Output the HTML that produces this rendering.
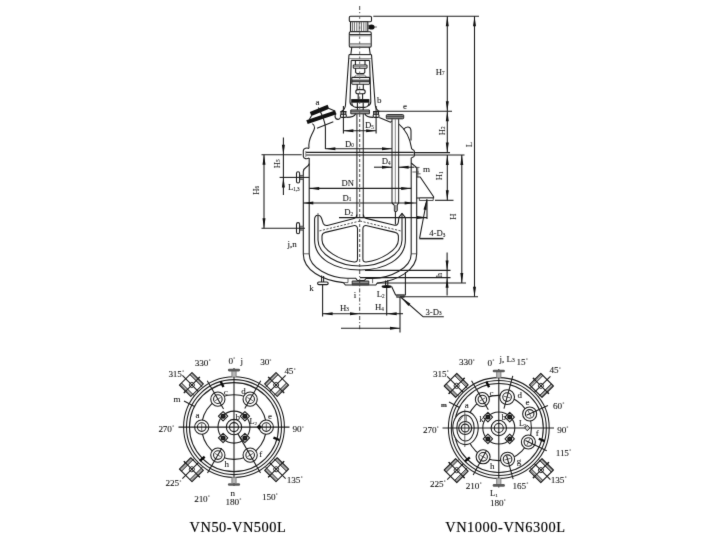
<!DOCTYPE html>
<html lang="en"><head><meta charset="utf-8"><title>VN reactor drawing</title>
<style>
html,body{margin:0;padding:0;background:#fff;}
body{width:720px;height:540px;overflow:hidden;font-family:"Liberation Serif",serif;}
svg{display:block;will-change:transform;}
svg *{vector-effect:none;}
.d{fill:none;stroke:#1c1c1c;stroke-width:1.08;stroke-linecap:butt;stroke-linejoin:round;}
.d .t{stroke-width:.75;stroke:#333;}
.d .k{stroke-width:1.3;stroke:#111;}
.d .f{fill:#111;stroke:none;}
.d .w{fill:#fff;}
.d .cl{stroke-dasharray:4 2 1.2 2;stroke-width:.9;stroke:#333;}
.d .clm{stroke-dasharray:2.4 2.6;stroke-width:.9;stroke:#555;}
.d .cs{stroke-dasharray:3 2;stroke-width:.95;stroke:#4a4a4a;}
.d .u{stroke-width:.9;stroke:#2a2a2a;}
.d .g{stroke:#777;stroke-width:.9;}
.d .s{stroke:#444;stroke-width:1.2;}
.d .da{stroke-dasharray:2.2 1.4;stroke-width:.8;}
.d .cap{fill:#000;stroke:#000;stroke-width:.16;}
.d .b{font-weight:bold;}
.d text{fill:#111;stroke:#111;stroke-width:.08;font-family:"Liberation Serif",serif;}
</style></head><body>
<svg width="720" height="540" viewBox="0 0 720 540">
<defs><filter id="sf" x="0" y="0" width="720" height="540" filterUnits="userSpaceOnUse" color-interpolation-filters="sRGB"><feConvolveMatrix order="3" kernelMatrix="0.01 0.07 0.01 0.07 0.68 0.07 0.01 0.07 0.01" edgeMode="none" preserveAlpha="false"/></filter></defs>
<g class="d" filter="url(#sf)">
<g id="elev">
<rect x="349.3" y="16.3" width="22.2" height="5.4" rx="1.2" class="w"/>
<rect x="350.5" y="21.7" width="17.3" height="9.8" class="w"/>
<line x1="352.4" y1="22.2" x2="352.4" y2="31.3" class='t'/>
<line x1="354.4" y1="22.2" x2="354.4" y2="31.3" class='t'/>
<line x1="356.8" y1="22.2" x2="356.8" y2="31.3" class='t'/>
<line x1="359.2" y1="22.2" x2="359.2" y2="31.3" class='t'/>
<line x1="361.4" y1="22.2" x2="361.4" y2="31.3" class='t'/>
<line x1="363.8" y1="22.2" x2="363.8" y2="31.3" class='t'/>
<line x1="366" y1="22.2" x2="366" y2="31.3" class='t'/>
<path d="M367.8 25.3h1.6M367.8 28.7h1.6M373.5 27h3.4" class="t"/>
<ellipse cx="371.5" cy="27" rx="3.1" ry="2.6" class="f"/>
<rect x="349.3" y="31.8" width="21.9" height="15.3" rx="1.2" class="w"/>
<line x1="349.5" y1="34.6" x2="371" y2="34.6"/>
<line x1="349.5" y1="35.8" x2="371" y2="35.8" class='g'/>
<line x1="349.5" y1="43.7" x2="371" y2="43.7" class='g'/>
<line x1="349.5" y1="44.9" x2="371" y2="44.9" class='g'/>
<path d="M351.8 47.1L350.8 54.6M369.2 47.1L370.3 54.6"/>
<path d="M349 54.6H371.5"/>
<path d="M349.2 58.6H371.3" class="g"/>
<path d="M349 54.6L345.5 105C345.2 108.5 343.4 110.4 341.2 111.5M371.5 54.6L375.2 105C375.5 108.5 377.4 110.4 379.4 111.5"/>
<path d="M351.2 60.4H369.6M351.2 60.4L350 101.5C350 104 351 105.2 352.5 105.8M369.6 60.4L370.8 101.5C370.8 104 369.6 105.2 368.2 105.8"/>
<path d="M355.4 60.4V65M365 60.4V65"/>
<rect x="353.3" y="65" width="13.7" height="3.2" rx="0.6" class="w"/>
<line x1="353.5" y1="66.6" x2="367" y2="66.6" class='g'/>
<path d="M355.6 68.2V72.3L357 73.6H363.6L364.8 72.3V68.2"/>
<path d="M356.5 75H364.5M354.2 77.4L356 75.2M366.6 77.4L364.8 75.2" class="t"/>
<rect x="351.8" y="77.4" width="17.8" height="6.8" rx="0.6" class="w"/>
<line x1="351.8" y1="80.2" x2="369.6" y2="80.2"/>
<line x1="351.8" y1="81.7" x2="369.6" y2="81.7"/>
<path d="M357.2 84.2V89.8M363.3 84.2V89.8"/>
<rect x="355.8" y="89.6" width="9.4" height="4.2" rx="2.1" class="w"/>
<path d="M358.2 93.8V99.3M362.6 93.8V99.3"/>
<rect x="351.2" y="99.1" width="18.2" height="3.6" class="f"/>
<path d="M351.8 102.6C351.8 105.5 353.5 107.2 356 107.4H364.8C367.3 107.2 369 105.5 369 102.6"/>
<path d="M357.4 102.6V110M363.2 102.6V110"/>
<rect x="350.8" y="110" width="18.6" height="3.8" fill="#a8a8a8" stroke="#222" stroke-width="1"/>
<line x1="350.8" y1="111.7" x2="369.4" y2="111.7" class='t'/>
<rect x="341" y="111.6" width="4.8" height="2.6" class="w"/>
<rect x="340.5" y="114.2" width="5.8" height="3.2" rx="1.2" class="w"/>
<rect x="373.7" y="111.6" width="4.8" height="2.6" class="w"/>
<rect x="373.2" y="114.2" width="5.8" height="3.2" rx="1.2" class="w"/>
<line x1="343.4" y1="106" x2="343.4" y2="133.5"/>
<line x1="376.1" y1="106" x2="376.1" y2="133.5"/>
<path d="M340.5 111.6H346.4M373.2 111.6H379.2"/>
<path d="M346.4 117.4C351.5 117.4 354.6 116.6 355.6 113.8M373.2 117.4C368.4 117.4 366 116.6 364.8 113.8"/>
<line x1="356.9" y1="113.8" x2="356.9" y2="217" class='s'/>
<line x1="363.3" y1="113.8" x2="363.3" y2="217" class='s'/>
<path d="M311.4 115.9L329.2 108.7L327.6 104.8L309.8 112Z" class="f"/>
<path d="M307.7 124L336.5 114.2L335.1 110.4L306.3 120.2Z" class="f"/>
<path d="M311.6 115.5L309.2 119.8M329 108.6L335 111"/>
<path d="M318.3 107.5C321 113 325 120 325.4 127.5V149"/>
<line x1="317" y1="128.3" x2="333.3" y2="121.7"/>
<path d="M312.4 123.6C316.5 126.5 314 130 312 134C309.5 139 308.4 144 309 148.4"/>
<path d="M335.8 113.6C334.4 116.4 335 119.2 338 119.4C339.5 119.5 340 118.6 340.5 117.4"/>
<path d="M379.2 117.6L390.6 122.2L392 121"/>
<path d="M398.4 123.6C404.5 128.5 410 137 411.7 149"/>
<path d="M403.6 129.6C405 127.5 407 126.8 409 127.2C410.6 127.6 411 129 411 131V140.5"/>
<rect x="386.3" y="114.6" width="17.4" height="4.2" rx="1" fill="#8a8a8a" stroke="#222" stroke-width="1"/>
<line x1="386.6" y1="116.6" x2="403.4" y2="116.6" class='t'/>
<line x1="392" y1="118.8" x2="392" y2="203" class='s'/>
<line x1="395.3" y1="118.8" x2="395.3" y2="203" class='g'/>
<line x1="398.6" y1="118.8" x2="398.6" y2="203" class='s'/>
<path d="M392 203L394.4 205.3V210.6L395.4 212M398.6 203L397.2 205.3V210.6L395.4 212V224.5"/>
<rect x="394.6" y="205" width="2.4" height="5.6" fill="#999" stroke="none"/>
<line x1="306" y1="152.4" x2="413.5" y2="152.4"/>
<line x1="306" y1="155" x2="413.5" y2="155"/>
<path d="M309 148.4C307 147.6 303.6 148 303.3 150.6V156.4C303.6 159 307 159.2 309.2 158"/>
<path d="M305.8 151V157" class="g"/>
<path d="M411.7 149C413 149.6 414.4 150 414.4 151.5V155.4C414.4 157 413 157.2 411.4 157.8"/>
<path d="M309.2 158V254"/>
<path d="M309.2 163.6C308.8 167.4 303.4 166.6 303.3 171.5V254"/>
<path d="M411.2 157.8V254"/>
<path d="M411.2 163L416.7 167.6V254"/>
<path d="M303.3 253.8H309.2M411.2 253.8H416.7" class="t"/>
<path d="M309.2 254C309.2 268 330 277.8 347 278.2H355.6L357.4 280.5H364.4L366 278.5H372.4C391 277.8 411.2 268 411.2 254"/>
<path d="M303.3 254C303.3 270 322 280.5 343.4 282.6L345.4 285H375.8L377.2 283.2C398 280.5 416.7 270 416.7 254"/>
<path d="M348 278.4V282.6H343.6M372.6 278.6V283.2" class="t"/>
<rect x="352.2" y="281" width="16.6" height="3.8" fill="#909090" stroke="#222" stroke-width=".9"/>
<line x1="352.2" y1="283.6" x2="368.8" y2="283.6" class='t'/>
<rect x="299.6" y="175.4" width="3.7" height="4" fill="#999" stroke="none"/>
<rect x="296.5" y="171.8" width="3.1" height="11.2" rx="1.55" class="w"/>
<path d="M299.6 175.4H303.3M299.6 179.4H303.3" class="t"/>
<rect x="299.6" y="226.2" width="3.7" height="4" fill="#999" stroke="none"/>
<rect x="296.5" y="222.6" width="3.1" height="11.2" rx="1.55" class="w"/>
<path d="M299.6 226.2H303.3M299.6 230.2H303.3" class="t"/>
<path d="M321.6 275.5V282M323.6 276V282"/>
<rect x="317.6" y="282" width="10.6" height="2.6" rx="1.3" class="w"/>
<line x1="322.6" y1="284.6" x2="322.6" y2="316.5"/>
<path d="M385.6 280.5V285.5M387.8 280V285.5"/>
<ellipse cx="386.6" cy="286.6" rx="5" ry="1.5" class="f"/>
<line x1="386.7" y1="288" x2="386.7" y2="315.5"/>
<path d="M391.6 286.6L395.6 295H405.4V272"/>
<rect x="396.6" y="295" width="7.6" height="2.4" fill="#777" stroke="#222" stroke-width=".6"/>
<path d="M414.5 167.4H419.5M412.4 172H419M416.4 173.8H420.6M417.8 167.6V176.8" class="t"/>
<path d="M416.7 177H420.2L433.6 196.8V198H416.7"/>
<rect x="419.4" y="198" width="13.8" height="2.5" fill="#fff" stroke="#222" stroke-width=".8"/>
<line x1="427" y1="200.4" x2="427" y2="219"/>
<path d="M356.9 214.5C356.7 217 355.6 218 354 218.4L327.4 225.4C325.6 225.8 324 225 323.2 223.4L321.8 219C321 216.4 319.6 215.2 318 215.2C316 215.2 314.6 217 314.6 219.6V240C314.6 259 335 270 360 270C385 270 405.4 259 405.4 240V217.6L402 213.3L398.9 217.4L398.3 222.4C398 224.6 396.4 225.6 394.6 225.2L366.2 218.4C364.6 218 363.5 217 363.3 214.5"/>
<line x1="318" y1="213" x2="318" y2="215.2" class='t'/>
<path d="M318 216V240C318 254 338 266 360 266C382 266 402 254 402 240V213.5"/>
<path d="M325.2 232.4L353.4 225.7C356 225.1 357.5 226.4 357.5 228.8V259C357.5 261.2 356.4 262.3 354.2 262C340 260.4 322 250 322 240V236C322 234 323.2 232.9 325.2 232.4Z"/>
<path transform="translate(720.4 0) scale(-1 1)" d="M325.2 232.4L353.4 225.7C356 225.1 357.5 226.4 357.5 228.8V259C357.5 261.2 356.4 262.3 354.2 262C340 260.4 322 250 322 240V236C322 234 323.2 232.9 325.2 232.4Z"/>
<path d="M360 221L319 231M360 221L401 231" class="da"/>
<path d="M359.7 6V15" class="cl"/>
<path d="M359.7 16.5V113" class="clm"/>
<path d="M359.7 114V270" class="cs"/>
<path d="M359.7 270V331" class="cl"/>
<line x1="373.3" y1="16.2" x2="479" y2="16.2"/>
<line x1="447.3" y1="16.2" x2="447.3" y2="111.3"/>
<path class="f" d="M447.30 16.20L448.80 26.20L445.80 26.20Z"/>
<path class="f" d="M447.30 111.30L445.80 101.30L448.80 101.30Z"/>
<line x1="474.5" y1="16.2" x2="474.5" y2="296.7"/>
<path class="f" d="M474.50 16.20L476.00 26.20L473.00 26.20Z"/>
<path class="f" d="M474.50 296.70L473.00 286.70L476.00 286.70Z"/>
<line x1="378.5" y1="111.2" x2="452" y2="111.2"/>
<line x1="447.3" y1="111.3" x2="447.3" y2="152.6"/>
<path class="f" d="M447.30 111.30L448.80 121.30L445.80 121.30Z"/>
<path class="f" d="M447.30 152.60L445.80 142.60L448.80 142.60Z"/>
<line x1="413.5" y1="152.6" x2="450" y2="152.6"/>
<line x1="413.5" y1="155" x2="464.5" y2="155"/>
<line x1="447.3" y1="155" x2="447.3" y2="200.3"/>
<path class="f" d="M447.30 155.00L448.80 165.00L445.80 165.00Z"/>
<path class="f" d="M447.30 200.30L445.80 190.30L448.80 190.30Z"/>
<line x1="435" y1="200.3" x2="453.5" y2="200.3"/>
<line x1="461.8" y1="155" x2="461.8" y2="283"/>
<path class="f" d="M461.80 155.00L463.30 165.00L460.30 165.00Z"/>
<path class="f" d="M461.80 283.00L460.30 273.00L463.30 273.00Z"/>
<line x1="377" y1="283" x2="466" y2="283"/>
<line x1="400" y1="296.7" x2="478" y2="296.7"/>
<line x1="365" y1="270.4" x2="450.5" y2="270.4"/>
<line x1="360" y1="277.6" x2="450.5" y2="277.6"/>
<line x1="447.1" y1="252.5" x2="447.1" y2="295.5"/>
<path class="f" d="M447.10 270.40L445.60 260.40L448.60 260.40Z"/>
<path class="f" d="M447.10 277.80L448.60 287.80L445.60 287.80Z"/>
<line x1="261.5" y1="154.8" x2="301.7" y2="154.8"/>
<line x1="283.4" y1="137.5" x2="283.4" y2="177.4"/>
<path class="f" d="M283.40 154.80L281.90 144.80L284.90 144.80Z"/>
<line x1="279.6" y1="177.4" x2="309.2" y2="177.4"/>
<line x1="283.4" y1="177.4" x2="283.4" y2="195"/>
<path class="f" d="M283.40 177.40L284.90 187.40L281.90 187.40Z"/>
<line x1="264" y1="154.8" x2="264" y2="228.2"/>
<path class="f" d="M264.00 154.80L265.50 164.80L262.50 164.80Z"/>
<path class="f" d="M264.00 228.20L262.50 218.20L265.50 218.20Z"/>
<line x1="261.5" y1="228.2" x2="305" y2="228.2"/>
<line x1="343.4" y1="130.8" x2="376.1" y2="130.8"/>
<path class="f" d="M343.40 130.80L353.40 129.30L353.40 132.30Z"/>
<path class="f" d="M376.10 130.80L366.10 132.30L366.10 129.30Z"/>
<line x1="325.4" y1="148.7" x2="392" y2="148.7"/>
<path class="f" d="M325.40 148.70L335.40 147.20L335.40 150.20Z"/>
<path class="f" d="M392.00 148.70L382.00 150.20L382.00 147.20Z"/>
<line x1="374" y1="167.2" x2="392" y2="167.2"/>
<path class="f" d="M392.00 167.20L382.00 168.70L382.00 165.70Z"/>
<line x1="398.6" y1="167.2" x2="414" y2="167.2"/>
<path class="f" d="M398.60 167.20L408.60 165.70L408.60 168.70Z"/>
<line x1="309.2" y1="188.4" x2="411.2" y2="188.4"/>
<path class="f" d="M309.20 188.40L319.20 186.90L319.20 189.90Z"/>
<path class="f" d="M411.20 188.40L401.20 189.90L401.20 186.90Z"/>
<line x1="303.3" y1="203" x2="416.7" y2="203"/>
<path class="f" d="M303.30 203.00L313.30 201.50L313.30 204.50Z"/>
<path class="f" d="M414.60 203.00L404.60 204.50L404.60 201.50Z"/>
<line x1="339" y1="217.6" x2="427" y2="217.6"/>
<path class="f" d="M427.00 217.60L417.00 219.10L417.00 216.10Z"/>
<path d="M419.6 238.2L427 199"/>
<line x1="419.3" y1="238.6" x2="443.4" y2="238.6" stroke="#222" stroke-width="1.5"/>
<path class="f" d="M427.00 199.00L426.43 210.09L423.48 209.53Z"/>
<path d="M443.8 316.7H423L401.2 297.5"/>
<path class="f" d="M401.20 297.50L410.44 303.65L408.46 305.90Z"/>
<line x1="322.6" y1="313.7" x2="360" y2="313.7"/>
<path class="f" d="M322.60 313.70L332.60 312.20L332.60 315.20Z"/>
<path class="f" d="M360.00 313.70L350.00 315.20L350.00 312.20Z"/>
<line x1="360" y1="313.7" x2="386.7" y2="313.7"/>
<line x1="386.7" y1="313.7" x2="403" y2="313.7"/>
<path class="f" d="M386.70 313.70L396.70 312.20L396.70 315.20Z"/>
<line x1="341" y1="328.3" x2="400" y2="328.3"/>
<path class="f" d="M400.00 328.30L390.00 329.80L390.00 326.80Z"/>
<line x1="400" y1="297" x2="400" y2="332.5"/>
<text x="315.6" y="104.6" font-size="9" text-anchor="start">a</text>
<text x="377" y="103" font-size="9" text-anchor="start">b</text>
<text x="403" y="109.4" font-size="9" text-anchor="start">e</text>
<text x="365" y="128.4" font-size="8.7" text-anchor="start">D<tspan font-size="5.2" dy="0.5">5</tspan></text>
<text x="345" y="146.7" font-size="8.7" text-anchor="start">D<tspan font-size="5.2" dy="0.5">0</tspan></text>
<text x="381.7" y="164" font-size="8.7" text-anchor="start">D<tspan font-size="5.2" dy="0.5">4</tspan></text>
<text x="341.6" y="186.1" font-size="8.6" text-anchor="start">DN</text>
<text x="342.5" y="200.8" font-size="8.7" text-anchor="start">D<tspan font-size="5.2" dy="0.5">1</tspan></text>
<text x="344.2" y="215" font-size="8.7" text-anchor="start">D<tspan font-size="5.2" dy="0.5">2</tspan></text>
<text x="423" y="171.8" font-size="9" text-anchor="start">m</text>
<text x="287.9" y="190" font-size="8.7" text-anchor="start">L<tspan font-size="5.2" dy="0.5">1,3</tspan></text>
<text x="287.5" y="246.8" font-size="9" text-anchor="start">j,n</text>
<text x="309.2" y="290.8" font-size="9" text-anchor="start">k</text>
<text x="353.7" y="297.5" font-size="9" text-anchor="start">i</text>
<text x="376.7" y="297" font-size="8.7" text-anchor="start">L<tspan font-size="5.2" dy="0.5">2</tspan></text>
<text x="340" y="310.8" font-size="8.7" text-anchor="start">H<tspan font-size="5.2" dy="0.5">3</tspan></text>
<text x="375" y="310.2" font-size="8.7" text-anchor="start">H<tspan font-size="5.2" dy="0.5">4</tspan></text>
<text x="429.2" y="236.3" font-size="8.7" text-anchor="start">4-D<tspan font-size="5.2" dy="0.5">3</tspan></text>
<text x="425.4" y="314.6" font-size="8.7" text-anchor="start">3-D<tspan font-size="5.2" dy="0.5">3</tspan></text>
<text x="435.8" y="74.6" font-size="8.7" text-anchor="start">H<tspan font-size="5.2" dy="0.5">7</tspan></text>
<text x="444.6" y="135.2" font-size="8.7" transform="rotate(-90 444.6 135.2)" text-anchor="start">H<tspan font-size="5.2" dy="0.5">2</tspan></text>
<text x="442.4" y="180.2" font-size="8.7" transform="rotate(-90 442.4 180.2)" text-anchor="start">H<tspan font-size="5.2" dy="0.5">1</tspan></text>
<text x="456.5" y="219.8" font-size="8.7" transform="rotate(-90 456.5 219.8)" text-anchor="start">H</text>
<text x="442" y="277.2" font-size="8.5" transform="rotate(-90 442 277.2)" text-anchor="start">h</text>
<text x="471.7" y="147.2" font-size="8.7" transform="rotate(-90 471.7 147.2)" text-anchor="start">L</text>
<text x="279.6" y="168.2" font-size="8.7" transform="rotate(-90 279.6 168.2)" text-anchor="start">H<tspan font-size="5.2" dy="0.5">5</tspan></text>
<text x="258.8" y="194.8" font-size="8.7" transform="rotate(-90 258.8 194.8)" text-anchor="start">H<tspan font-size="5.2" dy="0.5">6</tspan></text>
</g>
<g id="plan1">
<circle cx="234" cy="427.1" r="50.4"/>
<circle cx="234" cy="427.1" r="47.5"/>
<circle cx="234" cy="427.1" r="44.5"/>
<g transform="translate(234 427.1) rotate(45)">
<line x1="-7.4" y1="-68.3" x2="-7.4" y2="-52.2" stroke="#d4d4d4" stroke-width="3"/>
<line x1="-7.4" y1="-68.3" x2="-7.4" y2="-52.2" stroke="#555" stroke-width="3" stroke-dasharray=".5 .9"/>
<line x1="-5.9" y1="-68.3" x2="-5.9" y2="-50" class='u'/>
<line x1="7.4" y1="-68.3" x2="7.4" y2="-52.2" stroke="#d4d4d4" stroke-width="3"/>
<line x1="7.4" y1="-68.3" x2="7.4" y2="-52.2" stroke="#555" stroke-width="3" stroke-dasharray=".5 .9"/>
<line x1="5.9" y1="-68.3" x2="5.9" y2="-50" class='u'/>
<path d="M-8.9 -52.2V-68.3H8.9V-52.2Z"/>
<circle cx="0" cy="-59.6" r="2.5" class="u"/>
<line x1="-11.4" y1="-59.6" x2="11.4" y2="-59.6"/>
<line x1="0" y1="-73" x2="0" y2="-50.3"/>
<line x1="-11.1" y1="-59.6" x2="-8.4" y2="-59.6" stroke="#222" stroke-width="1.3"/>
<line x1="8.4" y1="-59.6" x2="11.1" y2="-59.6" stroke="#222" stroke-width="1.3"/>
</g>
<g transform="translate(234 427.1) rotate(135)">
<line x1="-7.4" y1="-68.3" x2="-7.4" y2="-52.2" stroke="#d4d4d4" stroke-width="3"/>
<line x1="-7.4" y1="-68.3" x2="-7.4" y2="-52.2" stroke="#555" stroke-width="3" stroke-dasharray=".5 .9"/>
<line x1="-5.9" y1="-68.3" x2="-5.9" y2="-50" class='u'/>
<line x1="7.4" y1="-68.3" x2="7.4" y2="-52.2" stroke="#d4d4d4" stroke-width="3"/>
<line x1="7.4" y1="-68.3" x2="7.4" y2="-52.2" stroke="#555" stroke-width="3" stroke-dasharray=".5 .9"/>
<line x1="5.9" y1="-68.3" x2="5.9" y2="-50" class='u'/>
<path d="M-8.9 -52.2V-68.3H8.9V-52.2Z"/>
<circle cx="0" cy="-59.6" r="2.5" class="u"/>
<line x1="-11.4" y1="-59.6" x2="11.4" y2="-59.6"/>
<line x1="0" y1="-73" x2="0" y2="-50.3"/>
<line x1="-11.1" y1="-59.6" x2="-8.4" y2="-59.6" stroke="#222" stroke-width="1.3"/>
<line x1="8.4" y1="-59.6" x2="11.1" y2="-59.6" stroke="#222" stroke-width="1.3"/>
</g>
<g transform="translate(234 427.1) rotate(225)">
<line x1="-7.4" y1="-68.3" x2="-7.4" y2="-52.2" stroke="#d4d4d4" stroke-width="3"/>
<line x1="-7.4" y1="-68.3" x2="-7.4" y2="-52.2" stroke="#555" stroke-width="3" stroke-dasharray=".5 .9"/>
<line x1="-5.9" y1="-68.3" x2="-5.9" y2="-50" class='u'/>
<line x1="7.4" y1="-68.3" x2="7.4" y2="-52.2" stroke="#d4d4d4" stroke-width="3"/>
<line x1="7.4" y1="-68.3" x2="7.4" y2="-52.2" stroke="#555" stroke-width="3" stroke-dasharray=".5 .9"/>
<line x1="5.9" y1="-68.3" x2="5.9" y2="-50" class='u'/>
<path d="M-8.9 -52.2V-68.3H8.9V-52.2Z"/>
<circle cx="0" cy="-59.6" r="2.5" class="u"/>
<line x1="-11.4" y1="-59.6" x2="11.4" y2="-59.6"/>
<line x1="0" y1="-73" x2="0" y2="-50.3"/>
<line x1="-11.1" y1="-59.6" x2="-8.4" y2="-59.6" stroke="#222" stroke-width="1.3"/>
<line x1="8.4" y1="-59.6" x2="11.1" y2="-59.6" stroke="#222" stroke-width="1.3"/>
</g>
<g transform="translate(234 427.1) rotate(315)">
<line x1="-7.4" y1="-68.3" x2="-7.4" y2="-52.2" stroke="#d4d4d4" stroke-width="3"/>
<line x1="-7.4" y1="-68.3" x2="-7.4" y2="-52.2" stroke="#555" stroke-width="3" stroke-dasharray=".5 .9"/>
<line x1="-5.9" y1="-68.3" x2="-5.9" y2="-50" class='u'/>
<line x1="7.4" y1="-68.3" x2="7.4" y2="-52.2" stroke="#d4d4d4" stroke-width="3"/>
<line x1="7.4" y1="-68.3" x2="7.4" y2="-52.2" stroke="#555" stroke-width="3" stroke-dasharray=".5 .9"/>
<line x1="5.9" y1="-68.3" x2="5.9" y2="-50" class='u'/>
<path d="M-8.9 -52.2V-68.3H8.9V-52.2Z"/>
<circle cx="0" cy="-59.6" r="2.5" class="u"/>
<line x1="-11.4" y1="-59.6" x2="11.4" y2="-59.6"/>
<line x1="0" y1="-73" x2="0" y2="-50.3"/>
<line x1="-11.1" y1="-59.6" x2="-8.4" y2="-59.6" stroke="#222" stroke-width="1.3"/>
<line x1="8.4" y1="-59.6" x2="11.1" y2="-59.6" stroke="#222" stroke-width="1.3"/>
</g>
<circle cx="234" cy="427.1" r="32.3"/>
<circle cx="234" cy="427.1" r="16"/>
<circle cx="217.85" cy="399.127" r="7.1" class="w"/>
<circle cx="217.85" cy="399.127" r="4.3"/>
<line x1="220.621" y1="397.527" x2="215.079" y2="400.727" class='t'/>
<circle cx="250.15" cy="399.127" r="7.1" class="w"/>
<circle cx="250.15" cy="399.127" r="4.3"/>
<line x1="252.921" y1="400.727" x2="247.379" y2="397.527" class='t'/>
<circle cx="266.3" cy="427.1" r="7.1" class="w"/>
<circle cx="266.3" cy="427.1" r="4.3"/>
<line x1="266.3" y1="423.7" x2="266.3" y2="430.5" class='t'/>
<circle cx="250.15" cy="455.073" r="7.1" class="w"/>
<circle cx="250.15" cy="455.073" r="4.3"/>
<line x1="247.379" y1="456.673" x2="252.921" y2="453.473" class='t'/>
<circle cx="217.85" cy="455.073" r="7.1" class="w"/>
<circle cx="217.85" cy="455.073" r="4.3"/>
<line x1="215.079" y1="453.473" x2="220.621" y2="456.673" class='t'/>
<circle cx="201.7" cy="427.1" r="7.1" class="w"/>
<circle cx="201.7" cy="427.1" r="4.3"/>
<line x1="201.7" y1="423.7" x2="201.7" y2="430.5" class='t'/>
<line x1="223.55" y1="409" x2="207.25" y2="380.768"/>
<line x1="244.75" y1="408.48" x2="260.75" y2="380.768"/>
<line x1="236.75" y1="431.863" x2="260.5" y2="472.999"/>
<line x1="221.75" y1="448.318" x2="207.5" y2="472.999"/>
<circle cx="234" cy="427.1" r="7.7" class="w"/>
<circle cx="234" cy="427.1" r="4.5"/>
<path d="M240.19 416.21L244.89 411.51L249.59 416.21L244.89 420.91Z"/>
<circle cx="244.89" cy="416.21" r="2.5" class="f"/>
<path d="M241.89 413.21L247.89 419.21M247.89 413.21L241.89 419.21" class="t"/>
<path d="M240.19 437.99L244.89 433.29L249.59 437.99L244.89 442.69Z"/>
<circle cx="244.89" cy="437.99" r="2.5" class="f"/>
<path d="M241.89 434.99L247.89 440.99M247.89 434.99L241.89 440.99" class="t"/>
<path d="M218.41 437.99L223.11 433.29L227.81 437.99L223.11 442.69Z"/>
<circle cx="223.11" cy="437.99" r="2.5" class="f"/>
<path d="M220.11 434.99L226.11 440.99M226.11 434.99L220.11 440.99" class="t"/>
<path d="M218.41 416.21L223.11 411.51L227.81 416.21L223.11 420.91Z"/>
<circle cx="223.11" cy="416.21" r="2.5" class="f"/>
<path d="M220.11 413.21L226.11 419.21M226.11 413.21L220.11 419.21" class="t"/>
<line x1="178.5" y1="427.1" x2="289.5" y2="427.1"/>
<line x1="234" y1="368" x2="234" y2="486"/>
<rect x="231.9" y="371.1" width="4.2" height="5.7" fill="#b8b8b8" stroke="none"/>
<path d="M231.9 376.8V371.1M236.1 376.8V371.1" class="g"/>
<rect x="227.9" y="368.8" width="12.2" height="2.6" rx="1.3" fill="#5a5a5a" stroke="none"/>
<rect x="231.9" y="477.4" width="4.2" height="5.7" fill="#b8b8b8" stroke="none"/>
<path d="M231.9 477.4V483.1M236.1 477.4V483.1" class="g"/>
<rect x="227.9" y="483.2" width="12.2" height="2.6" rx="1.3" fill="#5a5a5a" stroke="none"/>
<line x1="223.44" y1="387.00" x2="220.57" y2="381.28" stroke="#0a0a0a" stroke-width="2.4"/>
<line x1="273.46" y1="437.57" x2="279.38" y2="440.00" stroke="#0a0a0a" stroke-width="2.4"/>
<line x1="204.70" y1="456.79" x2="199.80" y2="460.91" stroke="#0a0a0a" stroke-width="2.4"/>
<path d="M256.6 427.1l2.6 -2.8l2.6 2.8l-2.6 2.8z" class="f"/>
<line x1="184" y1="401" x2="194.5" y2="406.5"/>
<text x="194.8" y="365.8" font-size="9.2" letter-spacing="-.15" text-anchor="start">330<tspan font-size="4.6" dy="-3.7" dx=".5">°</tspan></text>
<text x="228.4" y="363.8" font-size="9.2" letter-spacing="-.15" text-anchor="start">0<tspan font-size="4.6" dy="-3.7" dx=".5">°</tspan></text>
<text x="240.4" y="363.8" font-size="9" text-anchor="start">j</text>
<text x="260.2" y="365.4" font-size="9.2" letter-spacing="-.15" text-anchor="start">30<tspan font-size="4.6" dy="-3.7" dx=".5">°</tspan></text>
<text x="168.4" y="376.6" font-size="9.2" letter-spacing="-.15" text-anchor="start">315<tspan font-size="4.6" dy="-3.7" dx=".5">°</tspan></text>
<text x="284.4" y="374.2" font-size="9.2" letter-spacing="-.15" text-anchor="start">45<tspan font-size="4.6" dy="-3.7" dx=".5">°</tspan></text>
<text x="173.6" y="402" font-size="9" text-anchor="start">m</text>
<text x="195.6" y="417.6" font-size="9" text-anchor="start">a</text>
<text x="223.8" y="394.8" font-size="9" text-anchor="start">c</text>
<text x="241.2" y="394.2" font-size="9" text-anchor="start">d</text>
<text x="235.4" y="419.6" font-size="9" text-anchor="start">b</text>
<text x="268" y="419" font-size="9" text-anchor="start">e</text>
<text x="249.6" y="424.4" font-size="8" text-anchor="start">L<tspan font-size="5" dy="0.8">2</tspan></text>
<text x="259.2" y="456.8" font-size="9" text-anchor="start">f</text>
<text x="224.6" y="466.8" font-size="9" text-anchor="start">h</text>
<text x="158.4" y="431.9" font-size="9.2" letter-spacing="-.15" text-anchor="start">270<tspan font-size="4.6" dy="-3.7" dx=".5">°</tspan></text>
<text x="292.6" y="432.2" font-size="9.2" letter-spacing="-.15" text-anchor="start">90<tspan font-size="4.6" dy="-3.7" dx=".5">°</tspan></text>
<text x="165.6" y="486.4" font-size="9.2" letter-spacing="-.15" text-anchor="start">225<tspan font-size="4.6" dy="-3.7" dx=".5">°</tspan></text>
<text x="286.8" y="482.6" font-size="9.2" letter-spacing="-.15" text-anchor="start">135<tspan font-size="4.6" dy="-3.7" dx=".5">°</tspan></text>
<text x="194.2" y="501.6" font-size="9.2" letter-spacing="-.15" text-anchor="start">210<tspan font-size="4.6" dy="-3.7" dx=".5">°</tspan></text>
<text x="262" y="499.6" font-size="9.2" letter-spacing="-.15" text-anchor="start">150<tspan font-size="4.6" dy="-3.7" dx=".5">°</tspan></text>
<text x="230.4" y="495.6" font-size="9" text-anchor="start">n</text>
<text x="225.6" y="505" font-size="9.2" letter-spacing="-.15" text-anchor="start">180<tspan font-size="4.6" dy="-3.7" dx=".5">°</tspan></text>
<text x="189.6" y="531.6" font-size="14.4" letter-spacing="0.5" text-anchor="start" class="cap">VN50-VN500L</text>
</g>
<g id="plan2">
<circle cx="498.8" cy="428" r="50.4"/>
<circle cx="498.8" cy="428" r="47.5"/>
<circle cx="498.8" cy="428" r="44.5"/>
<g transform="translate(498.8 428) rotate(45)">
<line x1="-7.4" y1="-68.3" x2="-7.4" y2="-52.2" stroke="#d4d4d4" stroke-width="3"/>
<line x1="-7.4" y1="-68.3" x2="-7.4" y2="-52.2" stroke="#555" stroke-width="3" stroke-dasharray=".5 .9"/>
<line x1="-5.9" y1="-68.3" x2="-5.9" y2="-50" class='u'/>
<line x1="7.4" y1="-68.3" x2="7.4" y2="-52.2" stroke="#d4d4d4" stroke-width="3"/>
<line x1="7.4" y1="-68.3" x2="7.4" y2="-52.2" stroke="#555" stroke-width="3" stroke-dasharray=".5 .9"/>
<line x1="5.9" y1="-68.3" x2="5.9" y2="-50" class='u'/>
<path d="M-8.9 -52.2V-68.3H8.9V-52.2Z"/>
<circle cx="0" cy="-59.6" r="2.5" class="u"/>
<line x1="-11.4" y1="-59.6" x2="11.4" y2="-59.6"/>
<line x1="0" y1="-73" x2="0" y2="-50.3"/>
<line x1="-11.1" y1="-59.6" x2="-8.4" y2="-59.6" stroke="#222" stroke-width="1.3"/>
<line x1="8.4" y1="-59.6" x2="11.1" y2="-59.6" stroke="#222" stroke-width="1.3"/>
</g>
<g transform="translate(498.8 428) rotate(135)">
<line x1="-7.4" y1="-68.3" x2="-7.4" y2="-52.2" stroke="#d4d4d4" stroke-width="3"/>
<line x1="-7.4" y1="-68.3" x2="-7.4" y2="-52.2" stroke="#555" stroke-width="3" stroke-dasharray=".5 .9"/>
<line x1="-5.9" y1="-68.3" x2="-5.9" y2="-50" class='u'/>
<line x1="7.4" y1="-68.3" x2="7.4" y2="-52.2" stroke="#d4d4d4" stroke-width="3"/>
<line x1="7.4" y1="-68.3" x2="7.4" y2="-52.2" stroke="#555" stroke-width="3" stroke-dasharray=".5 .9"/>
<line x1="5.9" y1="-68.3" x2="5.9" y2="-50" class='u'/>
<path d="M-8.9 -52.2V-68.3H8.9V-52.2Z"/>
<circle cx="0" cy="-59.6" r="2.5" class="u"/>
<line x1="-11.4" y1="-59.6" x2="11.4" y2="-59.6"/>
<line x1="0" y1="-73" x2="0" y2="-50.3"/>
<line x1="-11.1" y1="-59.6" x2="-8.4" y2="-59.6" stroke="#222" stroke-width="1.3"/>
<line x1="8.4" y1="-59.6" x2="11.1" y2="-59.6" stroke="#222" stroke-width="1.3"/>
</g>
<g transform="translate(498.8 428) rotate(225)">
<line x1="-7.4" y1="-68.3" x2="-7.4" y2="-52.2" stroke="#d4d4d4" stroke-width="3"/>
<line x1="-7.4" y1="-68.3" x2="-7.4" y2="-52.2" stroke="#555" stroke-width="3" stroke-dasharray=".5 .9"/>
<line x1="-5.9" y1="-68.3" x2="-5.9" y2="-50" class='u'/>
<line x1="7.4" y1="-68.3" x2="7.4" y2="-52.2" stroke="#d4d4d4" stroke-width="3"/>
<line x1="7.4" y1="-68.3" x2="7.4" y2="-52.2" stroke="#555" stroke-width="3" stroke-dasharray=".5 .9"/>
<line x1="5.9" y1="-68.3" x2="5.9" y2="-50" class='u'/>
<path d="M-8.9 -52.2V-68.3H8.9V-52.2Z"/>
<circle cx="0" cy="-59.6" r="2.5" class="u"/>
<line x1="-11.4" y1="-59.6" x2="11.4" y2="-59.6"/>
<line x1="0" y1="-73" x2="0" y2="-50.3"/>
<line x1="-11.1" y1="-59.6" x2="-8.4" y2="-59.6" stroke="#222" stroke-width="1.3"/>
<line x1="8.4" y1="-59.6" x2="11.1" y2="-59.6" stroke="#222" stroke-width="1.3"/>
</g>
<g transform="translate(498.8 428) rotate(315)">
<line x1="-7.4" y1="-68.3" x2="-7.4" y2="-52.2" stroke="#d4d4d4" stroke-width="3"/>
<line x1="-7.4" y1="-68.3" x2="-7.4" y2="-52.2" stroke="#555" stroke-width="3" stroke-dasharray=".5 .9"/>
<line x1="-5.9" y1="-68.3" x2="-5.9" y2="-50" class='u'/>
<line x1="7.4" y1="-68.3" x2="7.4" y2="-52.2" stroke="#d4d4d4" stroke-width="3"/>
<line x1="7.4" y1="-68.3" x2="7.4" y2="-52.2" stroke="#555" stroke-width="3" stroke-dasharray=".5 .9"/>
<line x1="5.9" y1="-68.3" x2="5.9" y2="-50" class='u'/>
<path d="M-8.9 -52.2V-68.3H8.9V-52.2Z"/>
<circle cx="0" cy="-59.6" r="2.5" class="u"/>
<line x1="-11.4" y1="-59.6" x2="11.4" y2="-59.6"/>
<line x1="0" y1="-73" x2="0" y2="-50.3"/>
<line x1="-11.1" y1="-59.6" x2="-8.4" y2="-59.6" stroke="#222" stroke-width="1.3"/>
<line x1="8.4" y1="-59.6" x2="11.1" y2="-59.6" stroke="#222" stroke-width="1.3"/>
</g>
<circle cx="498.8" cy="428" r="32.6"/>
<circle cx="498.8" cy="428" r="16"/>
<ellipse cx="465.5" cy="428" rx="12.7" ry="16.6" class="w"/>
<ellipse cx="465.5" cy="428" rx="8.7" ry="13"/>
<circle cx="465.2" cy="428" r="6.5"/>
<circle cx="465.2" cy="428" r="3.9"/>
<line x1="464.8" y1="409.5" x2="464.8" y2="447" class='t'/>
<path d="M463.4 415.4L459 421.6M466.2 415.2V421.4" class="t"/>
<circle cx="482.35" cy="399.508" r="7" class="w"/>
<circle cx="482.35" cy="399.508" r="4.3"/>
<line x1="485.121" y1="397.908" x2="479.579" y2="401.108" class='t'/>
<circle cx="507.082" cy="397.09" r="7.4" class="w"/>
<circle cx="507.082" cy="397.09" r="4.3"/>
<line x1="510.173" y1="397.919" x2="503.991" y2="396.262" class='t'/>
<circle cx="529.648" cy="413.942" r="7" class="w"/>
<circle cx="529.648" cy="413.942" r="4.3"/>
<line x1="530.975" y1="416.854" x2="528.321" y2="411.03" class='t'/>
<circle cx="528.363" cy="441.975" r="7" class="w"/>
<circle cx="528.363" cy="441.975" r="4.3"/>
<line x1="526.996" y1="444.868" x2="529.731" y2="439.082" class='t'/>
<circle cx="507.567" cy="459.191" r="7" class="w"/>
<circle cx="507.567" cy="459.191" r="4.3"/>
<line x1="504.487" y1="460.057" x2="510.648" y2="458.325" class='t'/>
<circle cx="483.099" cy="456.798" r="7" class="w"/>
<circle cx="483.099" cy="456.798" r="4.3"/>
<line x1="480.289" y1="455.266" x2="485.908" y2="458.33" class='t'/>
<line x1="488.3" y1="409.813" x2="471.55" y2="380.802"/>
<line x1="503.976" y1="408.681" x2="512.776" y2="375.84"/>
<line x1="526.554" y1="415.352" x2="547.938" y2="405.607"/>
<line x1="525.47" y1="440.607" x2="546.716" y2="450.65"/>
<line x1="506.647" y1="455.918" x2="513.142" y2="479.023"/>
<line x1="486.354" y1="450.828" x2="473.19" y2="474.972"/>
<circle cx="498.8" cy="428" r="7.7" class="w"/>
<circle cx="498.8" cy="428" r="4.5"/>
<path d="M504.99 417.11L509.69 412.41L514.39 417.11L509.69 421.81Z"/>
<circle cx="509.69" cy="417.11" r="2.5" class="f"/>
<path d="M506.69 414.11L512.69 420.11M512.69 414.11L506.69 420.11" class="t"/>
<path d="M504.99 438.89L509.69 434.19L514.39 438.89L509.69 443.59Z"/>
<circle cx="509.69" cy="438.89" r="2.5" class="f"/>
<path d="M506.69 435.89L512.69 441.89M512.69 435.89L506.69 441.89" class="t"/>
<path d="M483.21 438.89L487.91 434.19L492.61 438.89L487.91 443.59Z"/>
<circle cx="487.91" cy="438.89" r="2.5" class="f"/>
<path d="M484.91 435.89L490.91 441.89M490.91 435.89L484.91 441.89" class="t"/>
<path d="M483.21 417.11L487.91 412.41L492.61 417.11L487.91 421.81Z"/>
<circle cx="487.91" cy="417.11" r="2.5" class="f"/>
<path d="M484.91 414.11L490.91 420.11M490.91 414.11L484.91 420.11" class="t"/>
<line x1="442.5" y1="428" x2="554" y2="428"/>
<line x1="498.8" y1="369" x2="498.8" y2="487.5"/>
<rect x="496.7" y="372" width="4.2" height="5.7" fill="#b8b8b8" stroke="none"/>
<path d="M496.7 377.7V372M500.9 377.7V372" class="g"/>
<rect x="492.7" y="369.7" width="12.2" height="2.6" rx="1.3" fill="#5a5a5a" stroke="none"/>
<rect x="496.7" y="478.3" width="4.2" height="5.7" fill="#b8b8b8" stroke="none"/>
<path d="M496.7 478.3V484M500.9 478.3V484" class="g"/>
<rect x="492.7" y="484.1" width="12.2" height="2.6" rx="1.3" fill="#5a5a5a" stroke="none"/>
<line x1="489.05" y1="387.29" x2="486.32" y2="381.50" stroke="#0a0a0a" stroke-width="2.4"/>
<line x1="538.80" y1="438.76" x2="544.71" y2="441.22" stroke="#0a0a0a" stroke-width="2.4"/>
<line x1="469.86" y1="457.34" x2="464.95" y2="461.45" stroke="#0a0a0a" stroke-width="2.4"/>
<path d="M524.8 428l2.5 -2.8l2.5 2.8l-2.5 2.8z" fill="#ccc" stroke="#222" stroke-width=".9"/>
<line x1="449" y1="402" x2="459.5" y2="407.5"/>
<text x="459" y="365.4" font-size="9.2" letter-spacing="-.15" text-anchor="start">330<tspan font-size="4.6" dy="-3.7" dx=".5">°</tspan></text>
<text x="487.6" y="365.6" font-size="9.2" letter-spacing="-.15" text-anchor="start">0<tspan font-size="4.6" dy="-3.7" dx=".5">°</tspan></text>
<text x="499.4" y="361.6" font-size="9" text-anchor="start">j, L<tspan font-size="5.5" dy="0.8">3</tspan></text>
<text x="516.6" y="365" font-size="9.2" letter-spacing="-.15" text-anchor="start">15<tspan font-size="4.6" dy="-3.7" dx=".5">°</tspan></text>
<text x="433" y="376.8" font-size="9.2" letter-spacing="-.15" text-anchor="start">315<tspan font-size="4.6" dy="-3.7" dx=".5">°</tspan></text>
<text x="549.6" y="373.4" font-size="9.2" letter-spacing="-.15" text-anchor="start">45<tspan font-size="4.6" dy="-3.7" dx=".5">°</tspan></text>
<text x="441" y="406.8" font-size="7" text-anchor="start" class="b">m</text>
<text x="464.8" y="407.6" font-size="9" text-anchor="start">a</text>
<text x="489.4" y="395.6" font-size="9" text-anchor="start">c</text>
<text x="517.6" y="397.6" font-size="9" text-anchor="start">d</text>
<text x="525.6" y="405.2" font-size="9" text-anchor="start">e</text>
<text x="479.2" y="421.7" font-size="9" text-anchor="start">k</text>
<text x="501.4" y="420.2" font-size="9" text-anchor="start">b</text>
<text x="519" y="426" font-size="8" text-anchor="start">L<tspan font-size="5" dy="0.8">2</tspan></text>
<text x="535.8" y="436" font-size="9" text-anchor="start">f</text>
<text x="516.8" y="464.2" font-size="9" text-anchor="start">g</text>
<text x="490" y="469" font-size="9" text-anchor="start">h</text>
<text x="423" y="432.6" font-size="9.2" letter-spacing="-.15" text-anchor="start">270<tspan font-size="4.6" dy="-3.7" dx=".5">°</tspan></text>
<text x="557.2" y="432.6" font-size="9.2" letter-spacing="-.15" text-anchor="start">90<tspan font-size="4.6" dy="-3.7" dx=".5">°</tspan></text>
<text x="553" y="408.8" font-size="9.2" letter-spacing="-.15" text-anchor="start">60<tspan font-size="4.6" dy="-3.7" dx=".5">°</tspan></text>
<text x="555.8" y="455.8" font-size="9.2" letter-spacing="-.15" text-anchor="start">115<tspan font-size="4.6" dy="-3.7" dx=".5">°</tspan></text>
<text x="550.8" y="482.8" font-size="9.2" letter-spacing="-.15" text-anchor="start">135<tspan font-size="4.6" dy="-3.7" dx=".5">°</tspan></text>
<text x="512.6" y="489" font-size="9.2" letter-spacing="-.15" text-anchor="start">165<tspan font-size="4.6" dy="-3.7" dx=".5">°</tspan></text>
<text x="465.8" y="489" font-size="9.2" letter-spacing="-.15" text-anchor="start">210<tspan font-size="4.6" dy="-3.7" dx=".5">°</tspan></text>
<text x="430" y="486.6" font-size="9.2" letter-spacing="-.15" text-anchor="start">225<tspan font-size="4.6" dy="-3.7" dx=".5">°</tspan></text>
<text x="490" y="496" font-size="8.5" text-anchor="start">L<tspan font-size="5" dy="0.8">1</tspan></text>
<text x="490" y="505.6" font-size="9.2" letter-spacing="-.15" text-anchor="start">180<tspan font-size="4.6" dy="-3.7" dx=".5">°</tspan></text>
<text x="445.2" y="531.6" font-size="14.4" letter-spacing="0.55" text-anchor="start" class="cap">VN1000-VN6300L</text>
</g>
</g>
</svg>
</body></html>
